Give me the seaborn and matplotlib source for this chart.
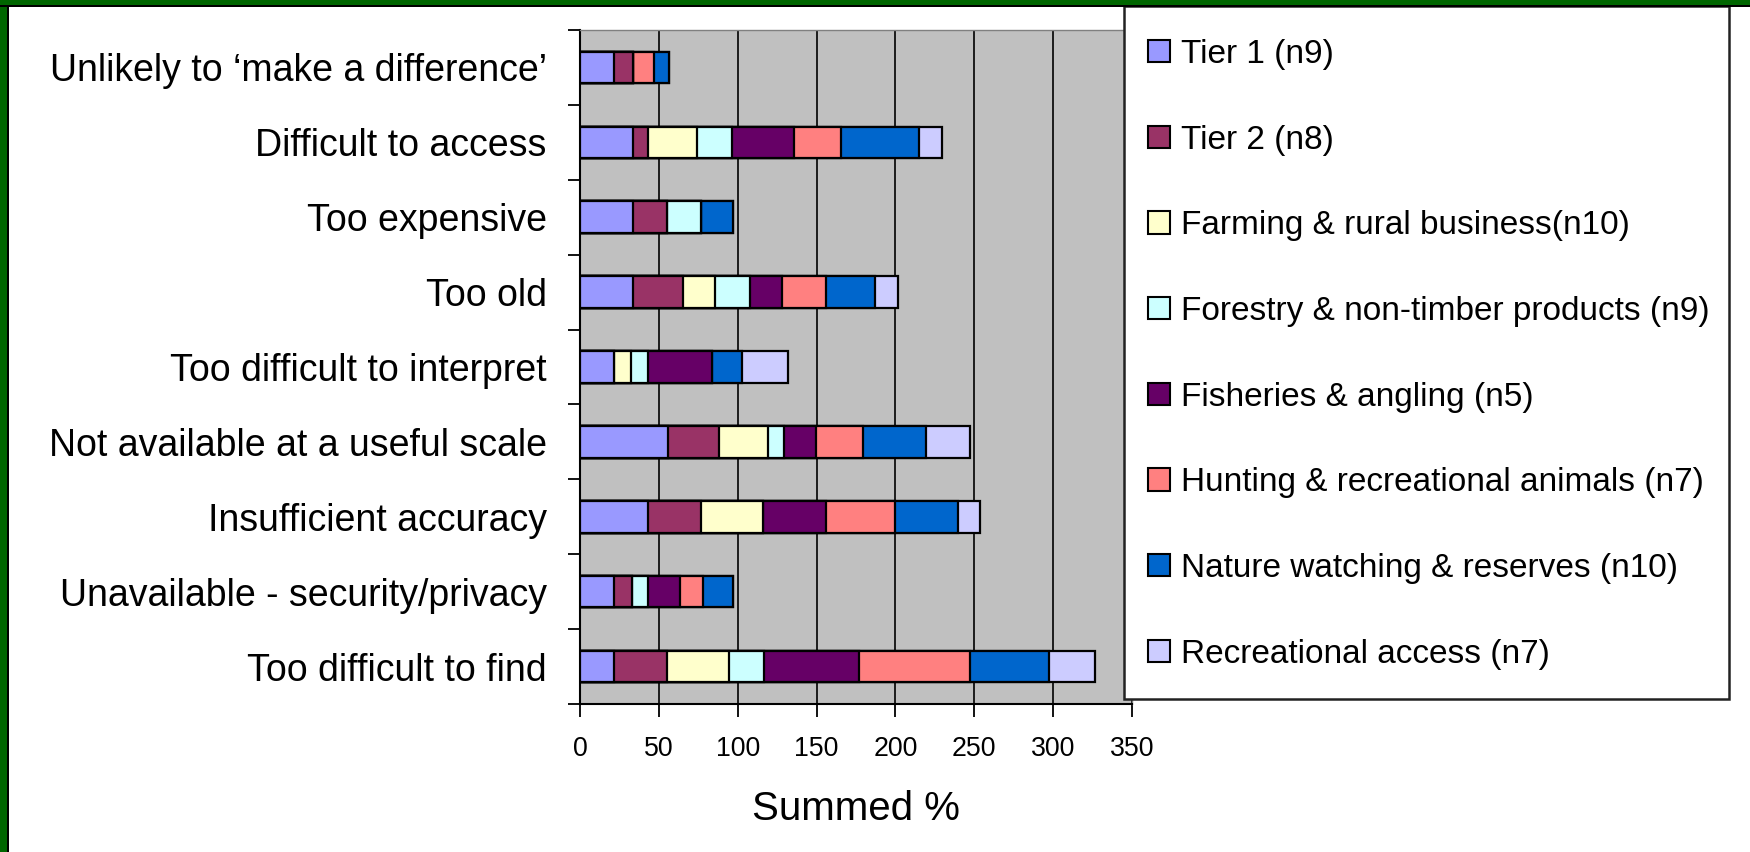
import numpy as np
import pandas as pd
import matplotlib
matplotlib.use("Agg")
import matplotlib.pyplot as plt
import seaborn as sns
from matplotlib.patches import Patch, Rectangle
from matplotlib.ticker import FixedLocator

# категории сверху вниз
categories = [
    "Unlikely to \u2018make a difference\u2019",
    "Difficult to access",
    "Too expensive",
    "Too old",
    "Too difficult to interpret",
    "Not available at a useful scale",
    "Insufficient accuracy",
    "Unavailable - security/privacy",
    "Too difficult to find",
]

series_names = [
    "Tier 1 (n9)",
    "Tier 2 (n8)",
    "Farming & rural business(n10)",
    "Forestry & non-timber products (n9)",
    "Fisheries & angling (n5)",
    "Hunting & recreational animals (n7)",
    "Nature watching & reserves (n10)",
    "Recreational access (n7)",
]

tier1 = [21.8, 33.3, 33.3, 33.3, 21.8, 56.0, 43.3, 21.8, 21.8]
tier2 = [11.6, 10.0, 21.6, 32.0, 0.0, 32.2, 33.3, 11.3, 33.1]
farming = [0.0, 30.6, 0.0, 20.4, 10.4, 30.8, 39.7, 0.0, 39.7]
forestry = [0.0, 22.2, 22.0, 22.0, 11.1, 10.3, 0.0, 10.2, 21.8]
fisheries = [0.0, 39.7, 0.0, 20.6, 40.1, 20.4, 39.9, 20.4, 60.6]
hunting = [13.8, 29.7, 0.0, 27.9, 0.0, 29.9, 43.6, 14.3, 70.3]
nature = [9.1, 49.7, 20.4, 30.9, 19.1, 39.7, 40.1, 19.3, 49.9]
recreational = [0.0, 14.3, 0.0, 14.3, 29.2, 28.1, 13.6, 0.0, 29.4]

colors = ["#9999FF", "#993366", "#FFFFCC", "#CCFFFF",
          "#660066", "#FF8080", "#0066CC", "#CCCCFF"]

xticks = [0, 50, 100, 150, 200, 250, 300, 350]

df = pd.DataFrame(
    np.array([tier1, tier2, farming, forestry, fisheries, hunting, nature, recreational]).T,
    columns=series_names, index=categories,
)
cum = df.cumsum(axis=1)

plt.rcParams['font.family'] = ['Liberation Sans', 'DejaVu Sans']

W, H = 1750, 852
fig = plt.figure(figsize=(W / 100, H / 100), dpi=100)
fig.patch.set_facecolor("white")

ax = fig.add_axes([580 / W, 1 - 704 / H, (1132 - 580) / W, (704 - 30) / H])
ax.set_facecolor("#C0C0C0")

# стек: рисуем от суммы к первому ряду
for name, col in reversed(list(zip(series_names, colors))):
    sns.barplot(x=cum[name].values, y=categories, orient="h", color=col,
                saturation=1, edgecolor="black", linewidth=1.6, width=0.42,
                ax=ax, zorder=3)

ax.set_xlim(0, 350)
ax.set_ylim(len(categories) - 0.5, -0.5)
ax.set_xticks(xticks)
ax.set_xticklabels([str(t) for t in xticks], fontsize=19.3)
ax.xaxis.grid(True, color="black", linewidth=1.2, zorder=1)
ax.yaxis.grid(False)
ax.set_axisbelow(True)

ax.set_yticks(range(len(categories)))
ax.set_yticklabels(categories, fontsize=27)
ax.yaxis.set_minor_locator(FixedLocator(np.arange(-0.5, len(categories), 1.0)))
ax.tick_params(axis="y", which="major", length=0, pad=24)
ax.tick_params(axis="y", which="minor", length=9, width=1.3, color="black", direction="out")
ax.tick_params(axis="x", which="major", length=9, width=1.3, color="black", pad=14)

ax.set_xlabel("Summed %", fontsize=29, labelpad=20)
ax.set_ylabel("")

for s in ["left", "bottom"]:
    ax.spines[s].set_color("black")
    ax.spines[s].set_linewidth(1.5)
for s in ["top", "right"]:
    ax.spines[s].set_color("#808080")
    ax.spines[s].set_linewidth(1.0)

# рамка легенды
fig.add_artist(Rectangle((1124 / W, 1 - 699 / H), (1729 - 1124) / W, (699 - 6) / H,
                         transform=fig.transFigure, facecolor="white",
                         edgecolor="#222222", linewidth=1.8, zorder=2))

handles = [Patch(facecolor=c, edgecolor="black", linewidth=1.5) for c in colors]
fig.legend(handles, series_names, loc="upper left",
           bbox_to_anchor=(1148 / W, 1 - 39 / H), frameon=False,
           fontsize=24, handlelength=0.65, handleheight=0.65,
           handletextpad=0.35, labelspacing=1.64, borderpad=0, borderaxespad=0)

# зелёная рамка слайда сверху и слева
fig.add_artist(Rectangle((0, 1 - 5 / H), 1, 5 / H, transform=fig.transFigure,
                         facecolor="#006600", edgecolor="none", zorder=6))
fig.add_artist(Rectangle((0, 0), 7 / W, 1, transform=fig.transFigure,
                         facecolor="#006600", edgecolor="none", zorder=6))
fig.add_artist(Rectangle((0, 1 - 7 / H), 1, 2 / H, transform=fig.transFigure,
                         facecolor="black", edgecolor="none", zorder=6))
fig.add_artist(Rectangle((7 / W, 0), 2 / W, 1 - 5 / H, transform=fig.transFigure,
                         facecolor="black", edgecolor="none", zorder=6))

fig.savefig("out.png", dpi=100)
plt.close(fig)
